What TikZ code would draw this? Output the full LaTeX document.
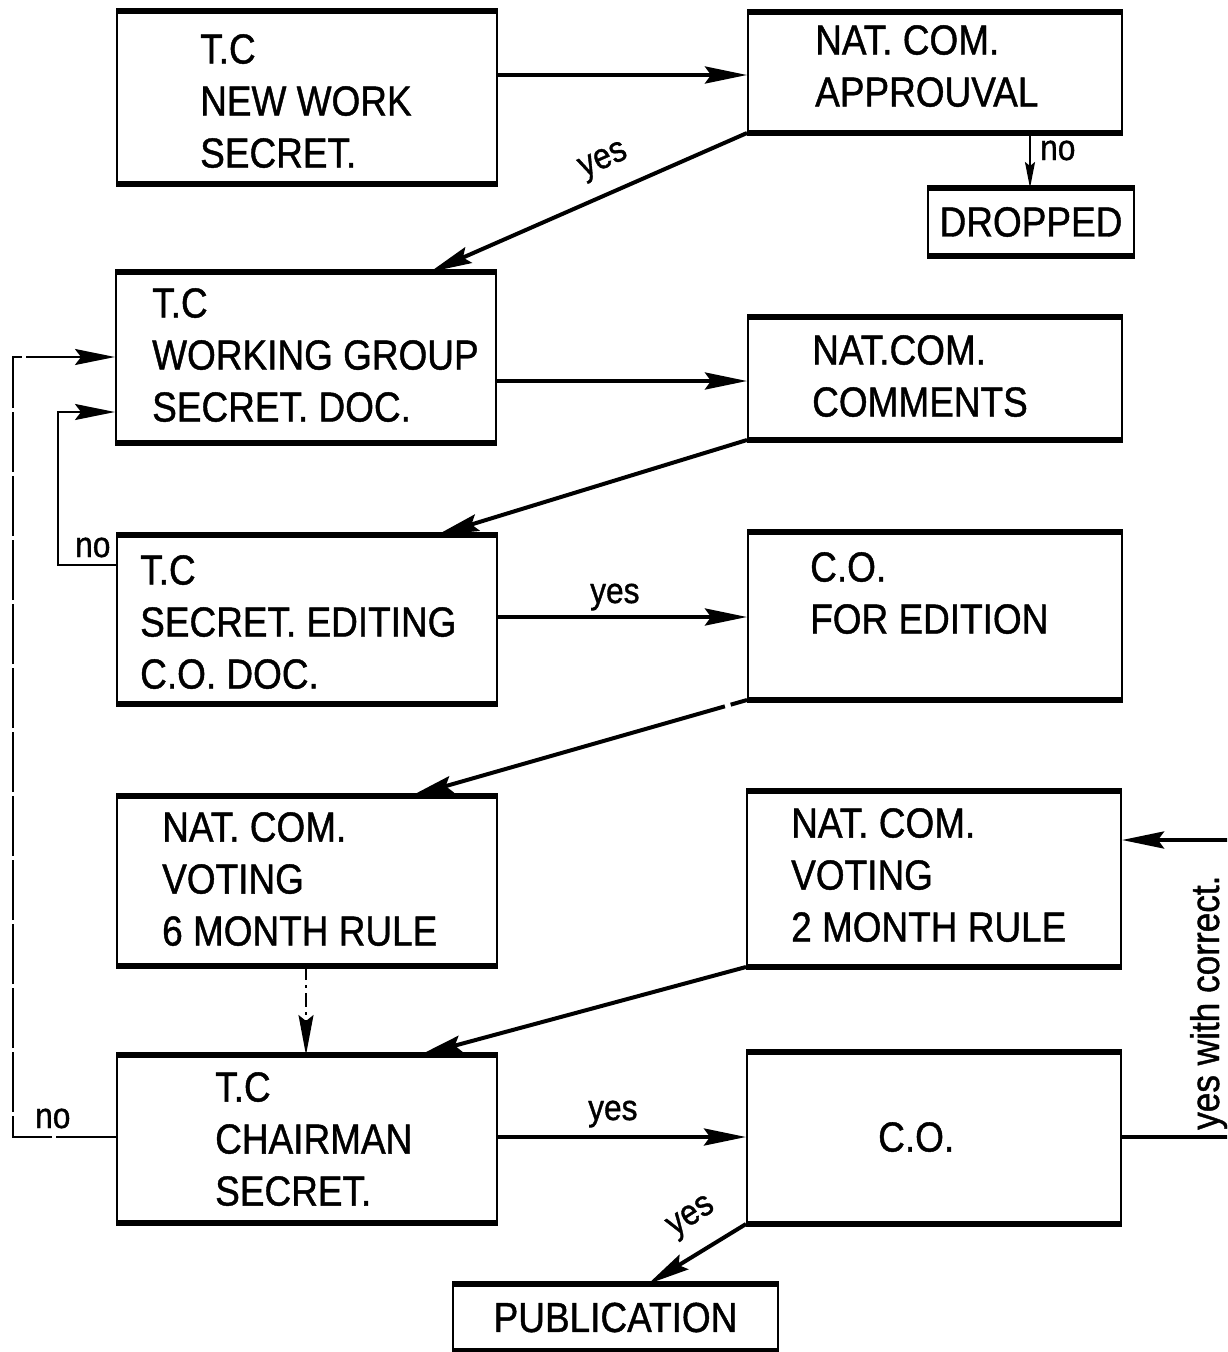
\documentclass[tikz,border=0pt]{standalone}
\usepackage{fontspec}
\setmainfont{Liberation Sans}[FakeStretch=0.88,FakeBold=1]
\usetikzlibrary{arrows.meta}
\begin{document}
\begin{tikzpicture}[x=1pt,y=-1pt,
  box/.style={draw, line width=2pt, rectangle, inner sep=0pt, font=\fontsize{42}{52}\selectfont},
  txt/.style={anchor=north west, align=left, inner sep=0pt, font=\fontsize{42}{52}\selectfont},
  lbl/.style={inner sep=0pt, font=\fontsize{36}{40}\selectfont},
  arr/.style={line width=4pt, -{Stealth[length=42pt,width=17pt,inset=6pt]}},
  tarr/.style={line width=2.2pt, -{Stealth[length=40pt,width=16pt,inset=6pt]}},
  sarr/.style={line width=2.2pt, -{Stealth[length=26pt,width=10pt,inset=4pt]}},
  darr/.style={line width=1.6pt, dash pattern=on 14pt off 5pt on 3pt off 5pt, -{Stealth[length=40pt,width=15pt,inset=6pt]}},
  thickedge/.style={line width=5.5pt}]
\useasboundingbox (0,0) rectangle (1227,1352);
\clip (0,0) rectangle (1227,1352);
\fill[white] (0,0) rectangle (1227,1352);

% boxes
\node[box, minimum width=380pt, minimum height=171pt] (b1) at (307,97.5) {};
\node[box, minimum width=374pt, minimum height=119pt] (b2) at (935,72.5) {};
\node[box, minimum width=206pt, minimum height=66pt] (dr) at (1031,222) {DROPPED};
\node[box, minimum width=380pt, minimum height=169pt] (b4) at (306,357.5) {};
\node[box, minimum width=374pt, minimum height=121pt] (b5) at (935,378.5) {};
\node[box, minimum width=380pt, minimum height=167pt] (b6) at (307,619.5) {};
\node[box, minimum width=374pt, minimum height=166pt] (b7) at (935,616) {};
\node[box, minimum width=380pt, minimum height=168pt] (b8) at (307,881) {};
\node[box, minimum width=374pt, minimum height=174pt] (b9) at (934,879) {};
\node[box, minimum width=380pt, minimum height=166pt] (b10) at (307,1139) {};
\node[box, minimum width=374pt, minimum height=170pt] (b11) at (934,1138) {};
\node[box, minimum width=325pt, minimum height=65pt] (pub) at (615.5,1317.5) {PUBLICATION};

\foreach \n in {b1,b2,dr,b4,b5,b6,b7,b8,b9,b10,b11,pub}
  \draw[thickedge] (\n.north west) -- (\n.north east) (\n.south west) -- (\n.south east);

% box texts
\node[txt] (t1) at (200,34) {T.C\\NEW WORK\\SECRET.};
\node[txt] (t2) at (815,25) {NAT. COM.\\APPROUVAL};
\node[txt] (t4) at (152,288) {T.C\\WORKING GROUP\\SECRET. DOC.};
\node[txt] (t5) at (812,335) {NAT.COM.\\COMMENTS};
\node[txt] (t6) at (140,555) {T.C\\SECRET. EDITING\\C.O. DOC.};
\node[txt] (t7) at (810,552) {C.O.\\FOR EDITION};
\node[txt] (t8) at (162,812) {NAT. COM.\\VOTING\\6 MONTH RULE};
\node[txt] (t9) at (791,808) {NAT. COM.\\VOTING\\2 MONTH RULE};
\node[txt] (t10) at (215,1072) {T.C\\CHAIRMAN\\SECRET.};
\node[txt] (t11) at (878,1122) {C.O.};

% connectors
\draw[arr] (b1.east |- 0,75) -- (b2.west |- 0,75);
\draw[sarr] (1030,0 |- b2.south) -- (1030,0 |- dr.north);
\draw[arr] (b2.south west) -- (430,0 |- b4.north);
\draw[arr] (b4.east |- 0,381) -- (b5.west |- 0,381);
\draw[arr] (b5.south west) -- (437,0 |- b6.north);
\draw[arr] (b6.east |- 0,617) -- (b7.west |- 0,617);
\draw[arr, dash pattern=on 17pt off 6pt on 600pt] (b7.south west) -- (411,0 |- b8.north);
\draw[darr] (306,0 |- b8.south) -- (306,0 |- b10.north);
\draw[arr] (b9.south west) -- (420,0 |- b10.north);
\draw[arr] (b10.east |- 0,1137) -- (b11.west |- 0,1137);
\draw[arr] (b11.south west) -- (648,0 |- pub.north);
\draw[tarr] (b6.west |- 0,565) -- (58,565) -- (58,412) -- (b4.west |- 0,412);
\draw[tarr, dash pattern=on 60pt off 4pt] (b10.west |- 0,1137) -- (13,1137) -- (13,357) -- (b4.west |- 0,357);
\draw[arr] (b11.east |- 0,1137) -- (1234,1137) -- (1234,840) -- (b9.east |- 0,840);

% labels
\node[lbl, anchor=base west] (lno1) at (1040,160) {no};
\node[lbl, rotate=24] (lyes1) at (604,162) {yes};
\node[lbl, anchor=base west] (lno2) at (75,557) {no};
\node[lbl, anchor=base west] (lyes2) at (590,603) {yes};
\node[lbl, anchor=base west] (lno3) at (35,1128) {no};
\node[lbl, anchor=base west] (lyes3) at (588,1120) {yes};
\node[lbl, rotate=33] (lyes4) at (692,1218) {yes};
\node[lbl, rotate=90, anchor=base west, font=\fontsize{40}{44}\selectfont] (lyes5) at (1219,1130) {yes with correct.};
\end{tikzpicture}
\end{document}
